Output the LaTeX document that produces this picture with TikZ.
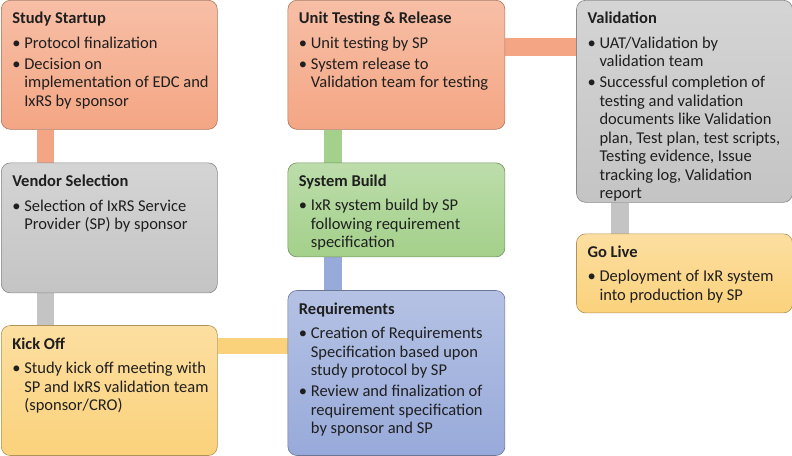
\documentclass[tikz,border=0pt]{standalone}
\usepackage{fontspec}
\setmainfont{Carlito}
\usepackage{tikz}
\usetikzlibrary{positioning,backgrounds}

\definecolor{salmon}{HTML}{F4A684}
\definecolor{ashgray}{HTML}{C4C4C4}
\definecolor{sand}{HTML}{FBD27C}
\definecolor{leaf}{HTML}{A3D08A}
\definecolor{steel}{HTML}{98AADA}

% height, width, title, rows of the bullet table
\newcommand{\stagetext}[4]{%
  \parbox[t][#1pt][t]{#2pt}{\fontsize{16.5}{18.5}\selectfont
    \vspace*{12pt}\hspace*{11pt}\textbf{#3}\par\vspace{6pt}
    \hspace*{11pt}\begin{tabular}[t]{@{}p{12pt}@{}l@{}}#4\end{tabular}}}

\tikzset{
  stage/.style={draw=#1!70!black, line width=0.6pt, rounded corners=9pt,
    top color=#1!72!white, bottom color=#1, inner sep=0pt,
    anchor=north west, text=black!88},
  link/.style={draw=#1, line width=18pt},
}

\begin{document}
\begin{tikzpicture}[x=1pt,y=-1pt]
\useasboundingbox (0,0) rectangle (792,455);

\node[stage=salmon] (startup) at (1,0)
  {\stagetext{129}{216}{Study Startup}{%
   \textbullet & Protocol finalization\\[2.5pt]
   \textbullet & Decision on\\
               & implementation of EDC and\\
               & IxRS by sponsor}};
\node[stage=ashgray, below=33pt of startup] (vendor)
  {\stagetext{130}{216}{Vendor Selection}{%
   \textbullet & Selection of IxRS Service\\
               & Provider (SP) by sponsor}};
\node[stage=sand, below=32pt of vendor] (kickoff)
  {\stagetext{130}{216}{Kick Off}{%
   \textbullet & Study kick off meeting with\\
               & SP and IxRS validation team\\
               & (sponsor/CRO)}};

\node[stage=salmon, right=70pt of startup] (unittest)
  {\stagetext{129}{217}{Unit Testing \& Release}{%
   \textbullet & Unit testing by SP\\[2.5pt]
   \textbullet & System release to\\
               & Validation team for testing}};
\node[stage=leaf, below=33pt of unittest] (build)
  {\stagetext{94}{217}{System Build}{%
   \textbullet & IxR system build by SP\\
               & following requirement\\
               & specification}};
\node[stage=steel, below=33pt of build] (req)
  {\stagetext{165}{217}{Requirements}{%
   \textbullet & Creation of Requirements\\
               & Specification based upon\\
               & study protocol by SP\\[2.5pt]
   \textbullet & Review and finalization of\\
               & requirement specification\\
               & by sponsor and SP}};

\node[stage=ashgray, right=71pt of unittest.north east, anchor=north west] (valid)
  {\stagetext{202}{216}{Validation}{%
   \textbullet & UAT/Validation by\\
               & validation team\\[2.5pt]
   \textbullet & Successful completion of\\
               & testing and validation\\
               & documents like Validation\\
               & plan, Test plan, test scripts,\\
               & Testing evidence, Issue\\
               & tracking log, Validation\\
               & report}};
\node[stage=sand, below=31pt of valid] (golive)
  {\stagetext{79}{216}{Go Live}{%
   \textbullet & Deployment of IxR system\\
               & into production by SP}};

% connectors behind the boxes
\begin{scope}[on background layer]
\draw[link=salmon, line width=17pt] ([xshift=44pt]startup.south west) -- ([xshift=44pt]vendor.north west);
\draw[link=ashgray, line width=17pt] ([xshift=44pt]vendor.south west) -- ([xshift=44pt]kickoff.north west);
\coordinate (k) at ([yshift=-21pt]kickoff.north east);
\draw[link=sand, line width=16pt] (k) -- (k -| req.west);
\draw[link=steel] ([xshift=45pt]req.north west) -- ([xshift=45pt]build.south west);
\draw[link=leaf] ([xshift=45pt]build.north west) -- ([xshift=45pt]unittest.south west);
\coordinate (u) at ([yshift=-47pt]unittest.north east);
\draw[link=salmon] (u) -- (u -| valid.west);
\draw[link=ashgray] ([xshift=44pt]valid.south west) -- ([xshift=44pt]golive.north west);
\end{scope}
\end{tikzpicture}
\end{document}
